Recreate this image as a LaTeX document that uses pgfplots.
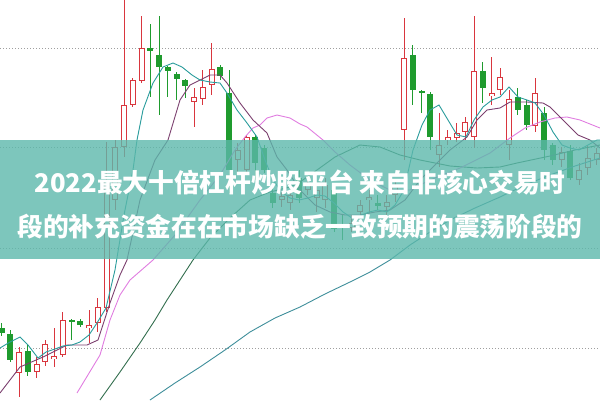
\documentclass[border=0pt]{standalone}
\usepackage{pgfplots}
\usepackage{pgfplotstable}
\pgfplotsset{compat=1.18}
\usepackage{fontspec}
\newfontfamily\cjk{Noto Sans CJK SC}

\definecolor{upred}{HTML}{D9363E}
\definecolor{downgreen}{HTML}{1F9B2E}
\definecolor{maA}{HTML}{2A9C9C}
\definecolor{maB}{HTML}{7B3F6E}
\definecolor{maC}{HTML}{E07DE0}
\definecolor{maD}{HTML}{336E4E}
\definecolor{maE}{HTML}{3E8E9A}
\definecolor{banner}{RGB}{92,184,171}

% candles in chart units (y grows downward): x open high low close
\pgfplotstableread{
x o h l c
19 373 347 397 352
36.5 372 357 378 364
45.25 362 340 366 344
54 359 328 367 356
62.75 355 312 357 320
89 328 310 343 325
97.75 323 298 332 307
106.5 308 142 312 180
115.25 200 140 210 147
124 147 0 157 105
132.75 105 78 107 80
141.5 81 16 83 48
194 102 88 127 97
202.75 99 70 105 87
211.5 85 43 95 69
237.75 160 143 175 150
246.5 170 135 172 137
281.5 200 190 207 196
290.25 203 182 210 195
307.75 190 178 195 185
316.5 198 185 212 190
325.25 200 178 208 185
351.5 228 215 232 223
360.25 212 200 218 205
369 200 190 213 197
386.5 207 195 215 202
395.25 195 180 202 185
404 130 18 160 58
439 155 113 167 145
447.75 140 130 145 137
456.5 138 123 142 133
465.25 132 117 140 122
474 137 16 148 71
491.5 96 57 105 93
500.25 90 68 95 77
509 145 90 160 99
535.25 126 78 132 93
561.5 160 147 167 152
579 180 163 185 170
587.75 168 145 175 158
596.5 160 148 165 153
}\upc

\pgfplotstableread{
x o h l c
1.5 328 323 336 333
10.25 334 330 362 360
27.75 351 345 376 372
71.5 320 319 340 322
80.25 321 319 327 325
150.25 48 24 97 51
159 55 16 115 67
167.75 67 66 97 71
176.5 74 72 100 79
185.25 80 79 98 86
220.25 67 65 80 76
229 93 70 193 170
255.25 137 135 180 163
264 148 145 173 170
272.75 193 188 208 203
299 178 170 203 198
334 190 185 232 229
342.75 224 215 240 226
377.75 203 195 210 206
412.75 55 45 105 90
421.5 91 90 113 93
430.25 94 92 150 137
482.75 71 62 103 88
517.75 97 88 115 110
526.5 105 100 130 125
544 113 107 160 150
552.75 145 143 165 160
570.25 151 145 180 178
}\downc

\pgfplotsset{
  bar/.style 2 args={forget plot, draw=none, mark=none,
    error bars/y dir=both, error bars/y explicit, error bars/error mark=none,
    error bars/error bar style={draw=#1, line width=#2, solid}},
}

\begin{document}
\begin{tikzpicture}
\begin{axis}[
    width=600pt, height=400pt, scale only axis,
    xmin=0, xmax=600, ymin=0, ymax=400, y dir=reverse,
    axis line style={draw=none},
    xtick=\empty, ytick={48,147,248,348}, yticklabels={},
    major tick length=0pt,
    ymajorgrids, grid style={gray!75, line width=0.8pt, dash pattern=on 1pt off 2pt},
  ]
% wicks
\addplot[bar={upred}{0.9pt}] table[x=x, y expr={(\thisrow{h}+\thisrow{l})/2}, y error expr={(\thisrow{l}-\thisrow{h})/2}] {\upc};
\addplot[bar={downgreen}{0.9pt}] table[x=x, y expr={(\thisrow{h}+\thisrow{l})/2}, y error expr={(\thisrow{l}-\thisrow{h})/2}] {\downc};
% bodies
\addplot[bar={upred}{6pt}] table[x=x, y expr={(\thisrow{o}+\thisrow{c})/2}, y error expr={max((\thisrow{o}-\thisrow{c})/2,0.6)}] {\upc};
\addplot[bar={white}{4pt}] table[x=x, y expr={(\thisrow{o}+\thisrow{c})/2}, y error expr={max((\thisrow{o}-\thisrow{c})/2-1.1,0)}] {\upc};
\addplot[bar={downgreen}{6pt}] table[x=x, y expr={(\thisrow{o}+\thisrow{c})/2}, y error expr={max((\thisrow{c}-\thisrow{o})/2,0.6)}] {\downc};

% moving averages
\addplot[maE, line width=0.9pt] coordinates {(150,400) (175,383) (200,367) (225,350) (250,332) (275,318) (300,307) (325,294) (350,282) (370,272) (390,260) (410,245) (430,232) (450,220) (475,208) (500,197) (525,185) (550,175) (575,166) (600,158)};
\addplot[maD, line width=0.9pt] coordinates {(100,400) (120,372) (140,343) (155,320) (167,300) (180,280) (193,260) (210,238) (230,218) (250,200) (270,192) (290,187) (300,182) (317,170) (335,157) (360,145) (380,147) (400,155) (420,160) (450,166) (477,168) (500,167) (517,163) (550,156) (575,150) (600,145)};
\addplot[maC, line width=0.9pt] coordinates {(77,393) (100,355) (110,320) (120,295) (130,280) (153,260) (175,235) (200,200) (220,175) (235,150) (245,137) (253,128) (260,125) (267,118) (277,115) (290,118) (300,124) (307,127) (323,140) (335,152) (350,165) (370,180) (390,190) (410,190) (430,180) (460,168) (490,153) (510,138) (525,128) (540,122) (555,118) (567,117) (580,120) (600,128)};
\addplot[maB, line width=0.9pt] coordinates {(0,393) (20,367) (43,357) (67,345) (87,345) (98,340) (110,303) (120,275) (127,260) (140,200) (155,160) (168,140) (180,100) (190,85) (200,80) (210,75) (220,75) (227,83) (240,103) (253,120) (267,133) (277,157) (287,170) (300,190) (315,205) (330,212) (345,215) (360,215) (375,212) (390,210) (405,200) (420,180) (435,165) (450,150) (467,137) (477,120) (487,110) (500,108) (510,102) (527,102) (543,103) (550,107) (565,122) (578,135) (590,140) (600,148)};
\addplot[maA, line width=0.9pt] coordinates {(0,348) (10,342) (20,337) (28,345) (38,358) (46,352) (55,349) (63,346) (72,345) (80,342) (89,335) (97,323) (106,308) (115,270) (124,215) (133,170) (137,140) (143,110) (153,83) (163,67) (173,63) (182,67) (192,75) (200,80) (210,82) (220,83) (227,93) (237,110) (247,123) (257,137) (265,160) (273,180) (282,192) (290,198) (299,200) (308,198) (317,195) (325,196) (334,203) (343,212) (352,218) (360,216) (369,212) (378,210) (387,212) (395,205) (404,190) (413,150) (422,125) (430,110) (439,105) (448,120) (457,135) (466,137) (474,120) (483,107) (492,100) (500,97) (509,87) (518,97) (527,100) (535,103) (544,115) (553,132) (562,145) (570,148) (579,150) (588,145) (597,140) (600,140)};

% title banner
\fill[banner, fill opacity=0.8] (axis cs:0,140) rectangle (axis cs:600,259);
\node[text=white, font={\cjk\bfseries\fontsize{25.7pt}{30pt}\selectfont}] at (axis cs:300,183) {2022最大十倍杠杆炒股平台 来自非核心交易时};
\node[text=white, font={\cjk\bfseries\fontsize{25.7pt}{30pt}\selectfont}] at (axis cs:300,227) {段的补充资金在在市场缺乏一致预期的震荡阶段的};
\end{axis}
\pgfresetboundingbox
\path (current axis.south west) rectangle (current axis.north east);
\end{tikzpicture}
\end{document}
